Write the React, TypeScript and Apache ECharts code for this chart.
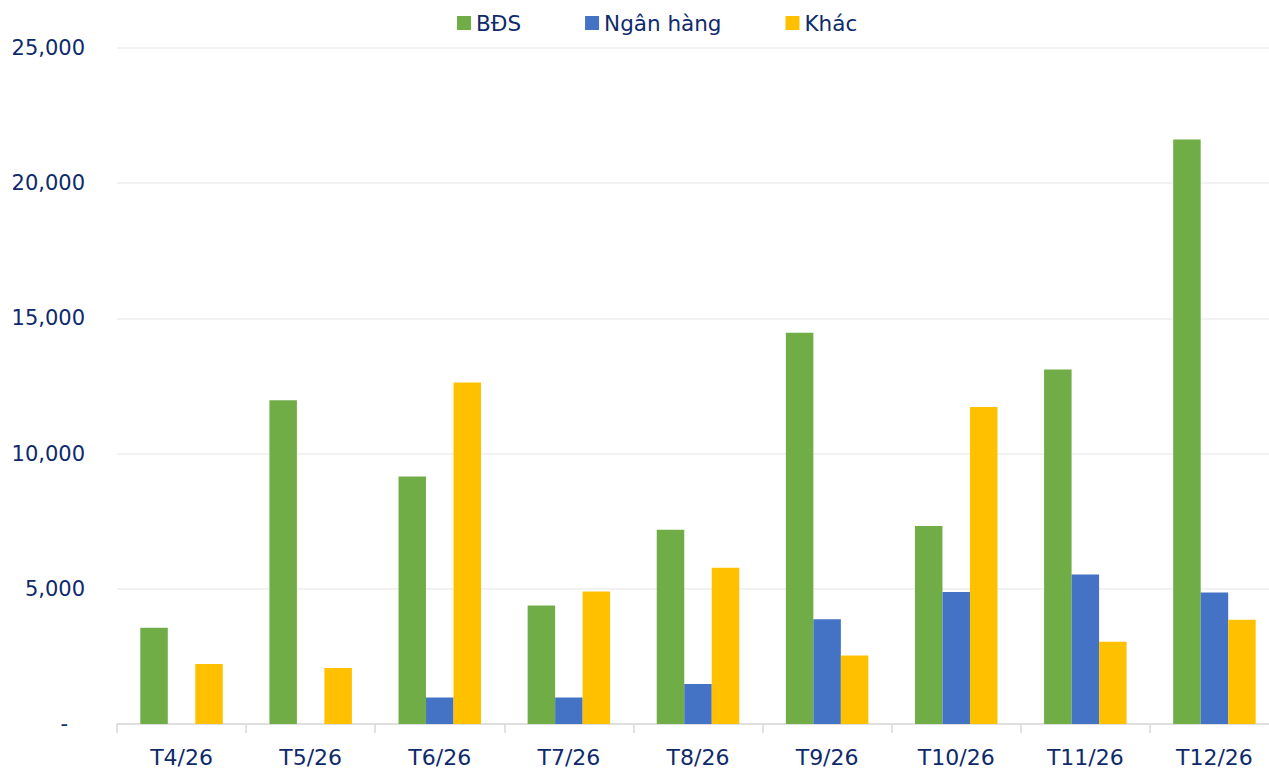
import React, { useEffect, useRef } from "react";
import * as echarts from "echarts";

const categories = ["T4/26", "T5/26", "T6/26", "T7/26", "T8/26", "T9/26", "T10/26", "T11/26", "T12/26"];
const bdsValues = [3560, 11970, 9150, 4380, 7180, 14470, 7320, 13110, 21620];
const nganHangValues = [null, null, 980, 980, 1480, 3870, 4880, 5530, 4860];
const khacValues = [2220, 2070, 12630, 4900, 5780, 2530, 11720, 3040, 3860];
const yTicks = { min: 0, max: 25000, interval: 5000 };

const textColor = "#0E2A6B";
const font = "DejaVu Sans, Verdana, sans-serif";

export default function App() {
  const ref = useRef<HTMLDivElement>(null);
  useEffect(() => {
    if (!ref.current) return;
    const chart = echarts.init(ref.current, null, { renderer: "svg" });
    const barBase = { type: "bar", barWidth: 27.5, barGap: "0%" };
    chart.setOption({
      animation: false,
      backgroundColor: "#ffffff",
      textStyle: { fontFamily: font },
      legend: {
        top: 7,
        left: 452,
        itemWidth: 14,
        itemHeight: 14,
        itemGap: 64,
        icon: "rect",
        textStyle: { color: textColor, fontSize: 21.5, fontFamily: font },
        data: ["BĐS", "Ngân hàng", "Khác"],
      },
      grid: { left: 117, right: 0, top: 48, bottom: 46, containLabel: false, outerBoundsMode: "none" },
      xAxis: {
        type: "category",
        data: categories,
        axisLine: { lineStyle: { color: "#d9d9d9", width: 1.5 } },
        axisTick: { show: true, length: 9, alignWithLabel: false, lineStyle: { color: "#d9d9d9", width: 1.5 } },
        axisLabel: { color: textColor, fontSize: 22, fontFamily: font, margin: 22 },
      },
      yAxis: {
        type: "value",
        min: yTicks.min,
        max: yTicks.max,
        interval: yTicks.interval,
        axisLine: { show: false },
        axisTick: { show: false },
        splitLine: { lineStyle: { color: "#eeeeee", width: 1.5 } },
        axisLabel: {
          color: textColor,
          fontSize: 21,
          fontFamily: font,
          margin: 32,
          formatter: (v: number) => (v === 0 ? "{d|-}" : v.toLocaleString("en-US")),
          rich: { d: { color: textColor, fontSize: 21, fontFamily: font, padding: [0, 17, 0, 0] } },
        },
      },
      series: [
        { ...barBase, name: "BĐS", data: bdsValues, itemStyle: { color: "#70AD47" } },
        { ...barBase, name: "Ngân hàng", data: nganHangValues, itemStyle: { color: "#4472C4" } },
        { ...barBase, name: "Khác", data: khacValues, itemStyle: { color: "#FFC000" } },
      ],
    });
    return () => chart.dispose();
  }, []);
  return (
    <div style={{ position: "fixed", left: 0, top: 0, width: 1269, height: 770, overflow: "hidden", background: "#fff" }}>
      <div ref={ref} style={{ width: 1279, height: 770 }} />
    </div>
  );
}
